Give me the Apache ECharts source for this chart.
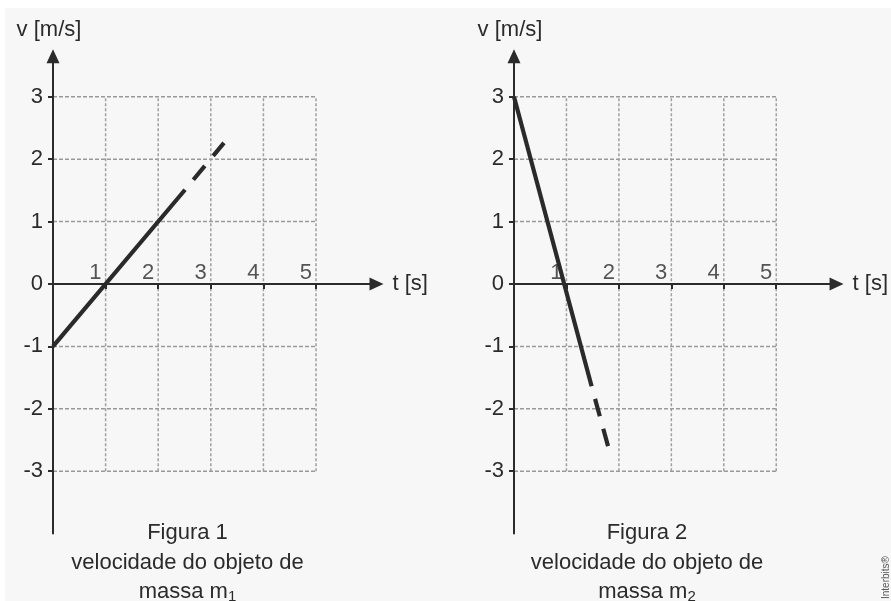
<!DOCTYPE html>
<html><head><meta charset="utf-8">
<script src="https://cdn.jsdelivr.net/npm/echarts@6/dist/echarts.min.js"></script>
<style>html,body{margin:0;padding:0;background:#fff}#c{width:891px;height:601px}</style>
</head><body><div id="c"></div>
<script>
// ---- data ----
const xTicks = [1, 2, 3, 4, 5];
const yTicks = [-3, -2, -1, 0, 1, 2, 3];
const gridXMax = 5, gridYMin = -3, gridYMax = 3;
const m1Solid = [[0, -1], [2.51, 1.51]];
const m1Dashed = [[2.51, 1.51], [3.25, 2.26]];
const m2Solid = [[0, 3], [1.48, -1.64]];
const m2Dashed = [[1.48, -1.64], [1.80, -2.62]];
const captionTitles = ['Figura 1', 'Figura 2'];
const captionLine2 = 'velocidade do objeto de';
const captionMass = ['massa m{s|1}', 'massa m{s|2}'];
const yName = 'v [m/s]', xName = 't [s]';

const FONT = "'Liberation Sans', Arial, Helvetica, sans-serif";
const FS = 22;
const TXT = '#2b2b2b';
const grids = [
  {left: 53, top: 56.2, width: 323.5, height: 477.4},
  {left: 514, top: 56.2, width: 324.1, height: 477.4}
];

function gridSeries(idx) {
  const s = [];
  const base = {type: 'line', xAxisIndex: idx, yAxisIndex: idx, symbol: 'none', silent: true, z: 1,
    animation: false, clip: false};
  yTicks.filter(v => v !== 0).forEach(v => s.push(Object.assign({}, base, {
    data: [[0, v], [gridXMax, v]], lineStyle: {color: '#9a9a9a', width: 1.5, type: [4, 2]}})));
  xTicks.forEach(v => s.push(Object.assign({}, base, {
    data: [[v, gridYMin], [v, gridYMax]], lineStyle: {color: '#a0a0a0', width: 1.5, type: [3, 2]}})));
  return s;
}
function tickLabelSeries(idx) {
  return {type: 'scatter', xAxisIndex: idx, yAxisIndex: idx, silent: true, z: 6, animation: false,
    symbolSize: 0, clip: false,
    data: xTicks.map(v => [v, 0]),
    label: {show: true, position: [-4, 0], align: 'right', verticalAlign: 'bottom',
      formatter: p => String(p.value[0]), color: TXT, fontSize: FS, fontFamily: FONT}};
}
function dataSeries(idx, solid, dashed) {
  const base = {type: 'line', xAxisIndex: idx, yAxisIndex: idx, symbol: 'none', silent: true, z: 5,
    animation: false, clip: false};
  return [
    Object.assign({}, base, {data: solid, lineStyle: {color: '#2a2a2a', width: 4.2, cap: 'butt'}}),
    Object.assign({}, base, {data: dashed, lineStyle: {color: '#2a2a2a', width: 4.2, cap: 'butt', type: [18, 13], dashOffset: 18}})
  ];
}
function xAx(idx) {
  return {gridIndex: idx, type: 'value', min: 0, max: 6.15, z: 3,
    axisLine: {onZero: true, symbol: ['none', 'triangle'], symbolSize: [13, 14], lineStyle: {color: '#2b2b2b', width: 2}},
    axisTick: {customValues: xTicks, length: 5, lineStyle: {color: '#2b2b2b', width: 2}},
    axisLabel: {show: false},
    splitLine: {show: false},
    name: xName, nameLocation: 'end', nameGap: 16,
    nameTextStyle: {color: TXT, fontSize: FS, fontFamily: FONT}};
}
function yAx(idx) {
  return {gridIndex: idx, type: 'value', min: -4, max: 3.65, z: 3,
    axisLine: {onZero: true, symbol: ['none', 'triangle'], symbolSize: [13, 14], lineStyle: {color: '#2b2b2b', width: 2}},
    axisTick: {customValues: yTicks, length: 5, lineStyle: {color: '#2b2b2b', width: 2}},
    axisLabel: {customValues: yTicks, margin: 10, color: TXT, fontSize: FS, fontFamily: FONT},
    splitLine: {show: false},
    name: yName, nameLocation: 'end', nameGap: 15,
    nameTextStyle: {color: TXT, fontSize: FS, fontFamily: FONT, padding: [0, 8, 0, 0]}};
}
function captionGraphics(cx, i) {
  const st = {fill: TXT, fontSize: FS, fontFamily: FONT, align: 'center', verticalAlign: 'middle'};
  return [
    {type: 'text', x: cx, y: 533, style: Object.assign({text: captionTitles[i]}, st)},
    {type: 'text', x: cx, y: 563, style: Object.assign({text: captionLine2}, st)},
    {type: 'text', x: cx, y: 592, style: Object.assign({text: captionMass[i],
      rich: {s: {fontSize: 15, fontFamily: FONT, fill: TXT, padding: [9, 0, 0, 0]}}}, st)}
  ];
}

const chart = echarts.init(document.getElementById('c'), null, {renderer: 'canvas'});
chart.setOption({
  backgroundColor: '#ffffff',
  animation: false,
  grid: grids,
  xAxis: [xAx(0), xAx(1)],
  yAxis: [yAx(0), yAx(1)],
  series: [].concat(gridSeries(0), gridSeries(1),
    dataSeries(0, m1Solid, m1Dashed), dataSeries(1, m2Solid, m2Dashed),
    [tickLabelSeries(0), tickLabelSeries(1)]),
  graphic: [
    {type: 'rect', z: -10, silent: true, shape: {x: 5, y: 8, width: 886, height: 593}, style: {fill: '#f7f7f7'}}
  ].concat(captionGraphics(187.5, 0), captionGraphics(647, 1), [
    {type: 'text', x: 886, y: 599, rotation: Math.PI / 2,
      style: {text: 'Interbits®', fill: '#555', fontSize: 10, fontFamily: FONT, align: 'left', verticalAlign: 'middle'}}
  ])
});
</script></body></html>
